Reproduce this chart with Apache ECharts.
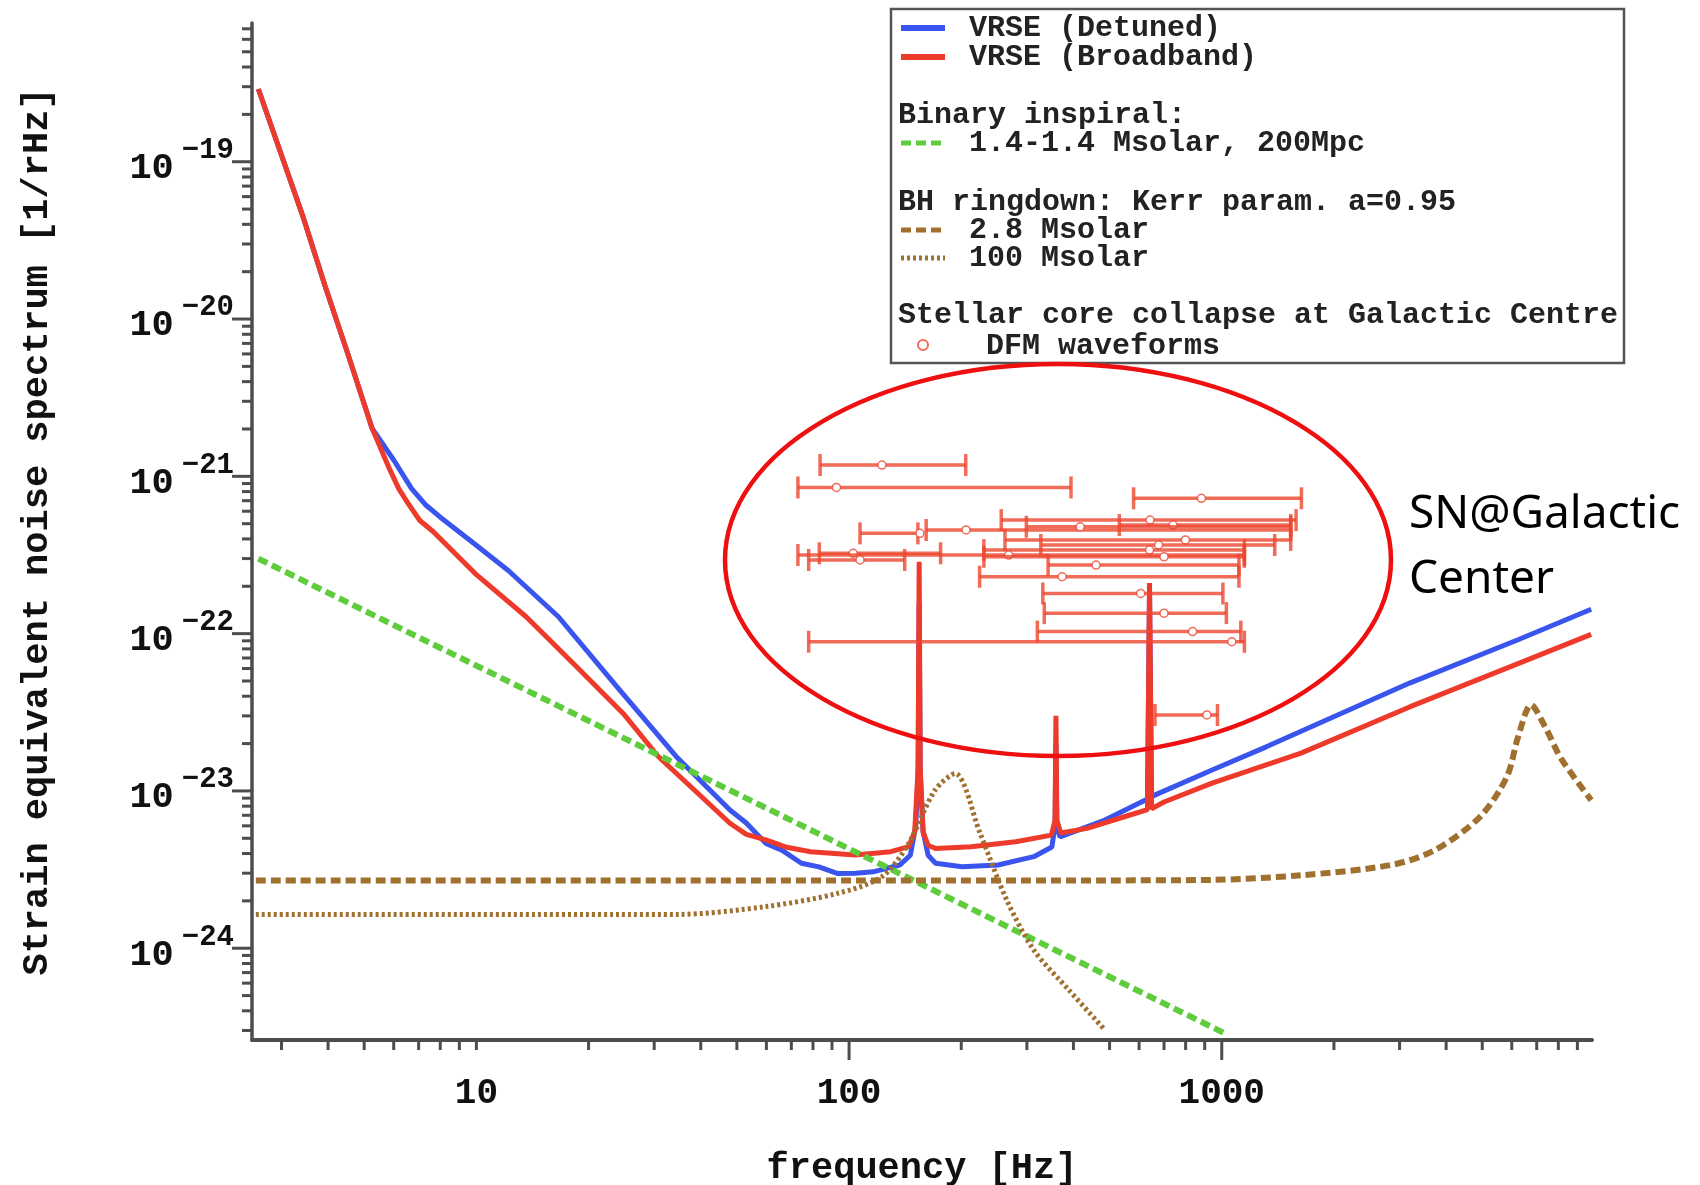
<!DOCTYPE html>
<html>
<head>
<meta charset="utf-8">
<title>VRSE strain noise</title>
<script src="https://cdn.jsdelivr.net/npm/echarts@6.0.0/dist/echarts.min.js"></script>
<style>
  html, body { margin: 0; padding: 0; background: #fff; }
  #chart { width: 1700px; height: 1185px; }
</style>
</head>
<body>
<div id="chart"></div>
<script>
// frequency [Hz], strain [1/rHz]
const detuned = [
  [2.6, 2.9e-19], [3.42, 4.53e-20], [3.93, 1.61e-20], [4.5, 6.2e-21], [5.25, 2.02e-21],
  [6.0, 1.27e-21], [6.7, 8.36e-22], [7.3, 6.6e-22], [8.0, 5.5e-22], [9.74, 3.82e-22], [12.2, 2.51e-22],
  [16.6, 1.28e-22], [24, 4.5e-23], [34.4, 1.65e-23], [47.9, 7.57e-24], [53, 6.25e-24], [59.8, 4.64e-24],
  [66, 4.2e-24], [74.5, 3.47e-24], [83, 3.29e-24], [92.9, 2.99e-24], [104, 3.0e-24], [116, 3.06e-24],
  [136.7, 3.38e-24], [146, 3.9e-24],
  [151, 6e-24], [153.2, 1.3e-23], [154.2, 1.55e-22], [155.2, 1.3e-23], [158, 5.5e-24],
  [163, 3.9e-24], [170.6, 3.47e-24], [201, 3.3e-24], [251, 3.38e-24], [313, 3.82e-24],
  [350, 4.4e-24], [357, 6e-24], [359, 2e-23], [361, 6e-24], [368, 5.1e-24], [486, 6.53e-24],
  [632, 8.9e-24], [640, 1.9e-22], [648, 9.2e-24], [677, 9.65e-24], [942, 1.36e-23],
  [1312, 1.9e-23], [3192, 4.85e-23], [6237, 9.14e-23], [9800, 1.43e-22]
]
const broadband = [
  [2.6, 2.9e-19], [3.42, 4.53e-20], [3.93, 1.61e-20], [4.5, 6.2e-21], [5.25, 2.02e-21],
  [5.87, 1.09e-21], [6.2, 8.3e-22], [6.55, 6.76e-22], [7.05, 5.24e-22], [7.65, 4.46e-22], [10, 2.37e-22],
  [13.6, 1.28e-22], [18.4, 6.3e-23], [24.8, 3.1e-23], [30.8, 1.65e-23], [38.5, 1.01e-23],
  [47.9, 6.23e-24], [53, 5.3e-24], [59.8, 4.88e-24], [68, 4.38e-24], [78.8, 4.11e-24],
  [103.8, 3.92e-24], [129.4, 4.11e-24], [144.5, 4.42e-24],
  [150, 5.5e-24], [153.2, 1.4e-23], [154.2, 2.86e-22], [155.2, 1.4e-23], [158, 5.5e-24],
  [163, 4.5e-24], [170.6, 4.31e-24], [212.5, 4.42e-24], [280, 4.75e-24], [349, 5.24e-24],
  [357, 6.5e-24], [359, 3.0e-23], [361, 6.5e-24], [370, 5.4e-24], [435, 5.78e-24],
  [567, 7.03e-24], [632, 7.6e-24], [640, 2.1e-22], [648, 7.7e-24], [700, 8.5e-24],
  [942, 1.12e-23], [1632, 1.74e-23], [3192, 3.42e-23], [6237, 6.45e-23], [9800, 9.9e-23]
]
const inspiral = [[2.6, 3.0e-22], [1012, 2.9e-25]]
const ringdown28 = [
  [2.56, 2.7e-24], [500, 2.7e-24], [942, 2.72e-24], [1632, 2.91e-24], [2842, 3.38e-24],
  [3733, 4.21e-24], [4932, 6.85e-24], [5821, 1.23e-23], [6237, 2.2e-23], [6761, 3.53e-23],
  [7362, 2.57e-23], [8147, 1.6e-23], [9800, 8.75e-24]
]
const ringdown100 = [
  [2.56, 1.64e-24], [34.4, 1.64e-24], [59.8, 1.84e-24], [92.9, 2.23e-24], [122.5, 2.85e-24],
  [144.5, 4.64e-24], [170, 1.01e-23], [192.5, 1.29e-23], [224.6, 5.39e-24], [265, 2.02e-24],
  [313, 9.75e-25], [389, 5.42e-25], [486, 3.02e-25]
]
// DFM waveforms: frequency band (low, high), peak frequency, strain
const dfmLow = [83.6, 72.9, 580, 256, 531, 161, 107, 299, 262, 327, 230, 83.2, 72.9, 230, 77.9, 342, 224, 331, 334, 320, 77.9, 662]
const dfmHigh = [205.6, 394, 1636, 1583, 1531, 1531, 153, 1531, 1531, 1387, 1150, 176, 1150, 1150, 141, 1112, 1112, 1007, 1029, 1125, 1150, 974]
const dfmPeak = [122.5, 92.5, 882, 642, 740, 206, 155, 417, 799, 677, 640, 102.6, 268, 700, 107, 460, 373, 606, 700, 835, 1064, 912]
const dfmStrain = [1.18e-21, 8.5e-22, 7.25e-22, 5.27e-22, 4.9e-22, 4.56e-22, 4.34e-22, 4.78e-22, 3.94e-22, 3.66e-22, 3.4e-22, 3.24e-22, 3.16e-22, 3.08e-22, 2.94e-22, 2.73e-22, 2.3e-22, 1.8e-22, 1.35e-22, 1.03e-22, 8.88e-23, 3.04e-23]

const xTickLabels = [10, 100, 1000]
const xLongTicks = [100, 1000]
const yTickExponents = [-19, -20, -21, -22, -23, -24]

const xMin = 2.5, xMax = 9850
const yMin = 2.61e-25, yMax = 7.62e-19

const MONO = '"Liberation Mono", "DejaVu Sans Mono", monospace'
const AXIS_COLOR = '#4d4d4d'
const BAR_COLOR = 'rgba(238, 70, 48, 0.8)'
const BROWN = '#a0702f'

function isPow10(v) {
  const l = Math.log10(v)
  return Math.abs(l - Math.round(l)) < 1e-6
}

// minor + major log ticks (1..9 x 10^k)
function logTicks(lo, hi) {
  const out = []
  for (let k = Math.floor(Math.log10(lo)); k <= Math.ceil(Math.log10(hi)); k++) {
    for (let m = 1; m <= 9; m++) {
      const v = m * Math.pow(10, k)
      if (v >= lo && v <= hi) out.push(v)
    }
  }
  return out
}

const myChart = echarts.init(document.getElementById('chart'))

const legendText = (x, y, text) => ({
  type: 'text', x: x, y: y,
  style: { text: text, font: 'bold 30px ' + MONO, fill: '#222', verticalAlign: 'middle' }
})

const option = {
  backgroundColor: '#fff',
  animation: false,
  grid: { left: 252, top: 23, width: 1340, height: 1017, outerBoundsMode: 'none' },
  xAxis: {
    type: 'log',
    logBase: 10,
    min: xMin,
    max: xMax,
    name: 'frequency [Hz]',
    nameLocation: 'middle',
    nameGap: 110,
    nameTextStyle: { fontFamily: MONO, fontWeight: 'bold', fontSize: 37, color: '#111' },
    axisLine: { onZero: false, lineStyle: { color: AXIS_COLOR, width: 4 } },
    axisTick: { show: false },
    splitLine: { show: false },
    axisLabel: {
      margin: 36,
      fontFamily: MONO, fontWeight: 'bold', fontSize: 36, color: '#111',
      showMinLabel: false, showMaxLabel: false,
      formatter: function (v) {
        const r = Math.round(v)
        return (isPow10(v) && xTickLabels.indexOf(r) >= 0) ? String(r) : ''
      }
    }
  },
  yAxis: {
    type: 'log',
    logBase: 10,
    min: yMin,
    max: yMax,
    name: 'Strain equivalent noise spectrum [1/rHz]',
    nameLocation: 'middle',
    nameGap: 196,
    nameTextStyle: { fontFamily: MONO, fontWeight: 'bold', fontSize: 37, color: '#111' },
    axisLine: { lineStyle: { color: AXIS_COLOR, width: 3.5 } },
    axisTick: { show: false },
    splitLine: { show: false },
    axisLabel: {
      margin: 18,
      showMinLabel: false, showMaxLabel: false,
      formatter: function (v) {
        if (!isPow10(v)) return ''
        const e = Math.round(Math.log10(v))
        return yTickExponents.indexOf(e) >= 0 ? '{b|10}{e|\u2212' + (-e) + '}' : ''
      },
      rich: {
        b: { fontFamily: MONO, fontWeight: 'bold', fontSize: 37, color: '#111', padding: [14, 8, 0, 0] },
        e: { fontFamily: MONO, fontWeight: 'bold', fontSize: 29, color: '#111', verticalAlign: 'top' }
      }
    }
  },
  graphic: [
    {
      type: 'ellipse', z: 50, silent: true,
      shape: { cx: 1058, cy: 560, rx: 333, ry: 196 },
      style: { fill: 'none', stroke: '#ee1010', lineWidth: 4.5 }
    },
    {
      type: 'text', z: 50, silent: true,
      x: 1409, y: 515,
      style: { text: 'SN@Galactic', font: '46px "Noto Sans"', fill: '#000', verticalAlign: 'middle' }
    },
    {
      type: 'text', z: 50, silent: true,
      x: 1409, y: 580,
      style: { text: 'Center', font: '46px "Noto Sans"', fill: '#000', verticalAlign: 'middle' }
    },
    {
      type: 'group', z: 100, silent: true,
      children: [
        { type: 'rect', shape: { x: 891, y: 9, width: 733, height: 354 }, style: { fill: '#fff', stroke: '#555', lineWidth: 2.5 } },
        { type: 'line', shape: { x1: 901, y1: 28, x2: 945, y2: 28 }, style: { stroke: '#3a55ee', lineWidth: 6 } },
        { type: 'line', shape: { x1: 901, y1: 57, x2: 945, y2: 57 }, style: { stroke: '#ee3a2a', lineWidth: 6 } },
        { type: 'line', shape: { x1: 901, y1: 143, x2: 942, y2: 143 }, style: { stroke: '#5fcc3e', lineWidth: 5, lineDash: [10, 5] } },
        { type: 'line', shape: { x1: 901, y1: 230, x2: 942, y2: 230 }, style: { stroke: BROWN, lineWidth: 5, lineDash: [10, 5] } },
        { type: 'line', shape: { x1: 901, y1: 258, x2: 945, y2: 258 }, style: { stroke: BROWN, lineWidth: 5, lineDash: [3, 3] } },
        { type: 'circle', shape: { cx: 923, cy: 345, r: 5 }, style: { fill: '#fff', stroke: BAR_COLOR, lineWidth: 2 } },
        legendText(969, 28, 'VRSE (Detuned)'),
        legendText(969, 57, 'VRSE (Broadband)'),
        legendText(898, 115, 'Binary inspiral:'),
        legendText(969, 143, '1.4-1.4 Msolar, 200Mpc'),
        legendText(898, 202, 'BH ringdown: Kerr param. a=0.95'),
        legendText(969, 230, '2.8 Msolar'),
        legendText(969, 258, '100 Msolar'),
        legendText(898, 315, 'Stellar core collapse at Galactic Centre'),
        legendText(986, 346, 'DFM waveforms')
      ]
    }
  ],
  series: [
    {
      name: 'VRSE (Detuned)', type: 'line', data: detuned, showSymbol: false, z: 3,
      lineStyle: { color: '#3a55ee', width: 5 }
    },
    {
      name: 'VRSE (Broadband)', type: 'line', data: broadband, showSymbol: false, z: 4,
      lineStyle: { color: '#ee3a2a', width: 5 }
    },
    {
      name: '1.4-1.4 Msolar, 200Mpc', type: 'line', data: inspiral, showSymbol: false, z: 5,
      lineStyle: { color: '#5fcc3e', width: 6, type: [10, 5] }
    },
    {
      name: '2.8 Msolar', type: 'line', data: ringdown28, showSymbol: false, smooth: 0.3, z: 5,
      lineStyle: { color: BROWN, width: 6, type: [10, 5] }
    },
    {
      name: '100 Msolar', type: 'line', data: ringdown100, showSymbol: false, smooth: 0.3, z: 5,
      lineStyle: { color: BROWN, width: 5, type: [3, 3] }
    },
    {
      name: 'DFM waveforms', type: 'custom', z: 6, clip: false,
      data: dfmLow.map((lo, i) => [lo, dfmHigh[i], dfmPeak[i], dfmStrain[i]]),
      encode: { x: [0, 1, 2], y: 3 },
      renderItem: function (params, api) {
        const y = api.value(3)
        const a = api.coord([api.value(0), y])
        const b = api.coord([api.value(1), y])
        const m = api.coord([api.value(2), y])
        const st = { stroke: BAR_COLOR, lineWidth: 3.5 }
        return {
          type: 'group',
          children: [
            { type: 'line', shape: { x1: a[0], y1: a[1], x2: b[0], y2: b[1] }, style: st },
            { type: 'line', shape: { x1: a[0], y1: a[1] - 11, x2: a[0], y2: a[1] + 11 }, style: st },
            { type: 'line', shape: { x1: b[0], y1: b[1] - 11, x2: b[0], y2: b[1] + 11 }, style: st },
            { type: 'circle', shape: { cx: m[0], cy: m[1], r: 4 }, style: { fill: '#fff', stroke: BAR_COLOR, lineWidth: 1.5 } }
          ]
        }
      }
    },
    {
      name: 'xticks', type: 'custom', z: 7, clip: false, silent: true,
      data: logTicks(xMin, xMax).map(v => [v, yMin]),
      renderItem: function (params, api) {
        const p = api.coord([api.value(0), api.value(1)])
        const len = xLongTicks.indexOf(Math.round(api.value(0))) >= 0 ? 20 : 10
        return { type: 'line', shape: { x1: p[0], y1: p[1], x2: p[0], y2: p[1] + len }, style: { stroke: AXIS_COLOR, lineWidth: 3 } }
      }
    },
    {
      name: 'yticks', type: 'custom', z: 7, clip: false, silent: true,
      data: logTicks(yMin, yMax).map(v => [xMin, v]),
      renderItem: function (params, api) {
        const p = api.coord([api.value(0), api.value(1)])
        const len = isPow10(api.value(1)) ? 20 : 10
        return { type: 'line', shape: { x1: p[0] - len, y1: p[1], x2: p[0], y2: p[1] }, style: { stroke: AXIS_COLOR, lineWidth: 3 } }
      }
    }
  ]
}

option && myChart.setOption(option)
</script>
</body>
</html>
